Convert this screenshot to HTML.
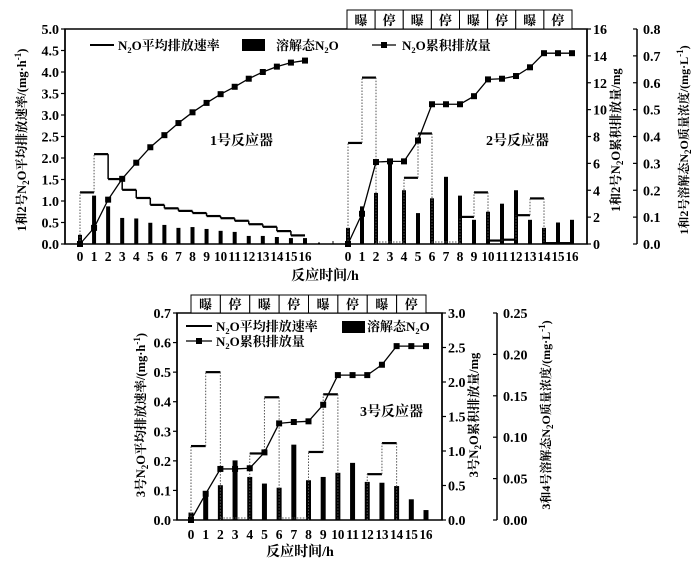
<!DOCTYPE html>
<html><head><meta charset="utf-8">
<style>
html,body{margin:0;padding:0;background:#fff;}
svg{display:block;font-family:"Liberation Serif","Noto Serif CJK SC",serif;}
</style></head>
<body>
<svg id="c" width="700" height="563" viewBox="0 0 700 563" xmlns="http://www.w3.org/2000/svg"></svg>
<script>
const hours = [0,1,2,3,4,5,6,7,8,9,10,11,12,13,14,15,16];
const aerationLabels = ["曝","停","曝","停","曝","停","曝","停"];
// Reactor 1
const r1Rate = [1.2,2.09,1.51,1.26,1.07,0.91,0.83,0.77,0.72,0.65,0.6,0.54,0.46,0.4,0.3,0.2];
const r1Cum = [0,1.2,3.3,4.85,6.05,7.2,8.1,9.0,9.8,10.5,11.15,11.7,12.3,12.8,13.2,13.5,13.65];
const r1Diss = [0.034,0.18,0.14,0.097,0.095,0.079,0.071,0.06,0.063,0.056,0.049,0.045,0.03,0.03,0.026,0.022,0.022];
// Reactor 2
const r2Rate = [2.35,3.87,0,0,1.54,2.57,0,0,0.63,1.2,0.08,0.1,0.67,1.06,0.02,0.02];
const r2Cum = [0,2.25,6.1,6.15,6.15,7.7,10.4,10.4,10.4,11.0,12.25,12.3,12.5,13.15,14.2,14.2,14.2];
const r2Diss = [0.06,0.14,0.19,0.31,0.2,0.115,0.17,0.25,0.18,0.09,0.12,0.15,0.2,0.09,0.06,0.08,0.09];
// Reactor 3
const r3Rate = [0.25,0.5,0,0,0.225,0.415,0,0,0.23,0.425,null,null,0.155,0.26,null,null];
const r3Cum = [0,0.38,0.74,0.74,0.75,0.98,1.4,1.42,1.43,1.67,2.1,2.1,2.1,2.25,2.52,2.52,2.52];
const r3Diss = [0.009,0.033,0.042,0.072,0.052,0.044,0.039,0.091,0.048,0.052,0.057,0.069,0.046,0.045,0.041,0.025,0.012];
// Axis ticks
const topLeftTicks = ["0.0","0.5","1.0","1.5","2.0","2.5","3.0","3.5","4.0","4.5","5.0"];
const topRightTicks = ["0","2","4","6","8","10","12","14","16"];
const topFarTicks = ["0.0","0.1","0.2","0.3","0.4","0.5","0.6","0.7","0.8"];
const botLeftTicks = ["0.0","0.1","0.2","0.3","0.4","0.5","0.6","0.7"];
const botRightTicks = ["0.0","0.5","1.0","1.5","2.0","2.5","3.0"];
const botFarTicks = ["0.00","0.05","0.10","0.15","0.20","0.25"];

const svg = document.getElementById('c');
const NS = "http://www.w3.org/2000/svg";
function el(tag, attrs, parent, text){
  const e = document.createElementNS(NS, tag);
  for (const k in attrs) e.setAttribute(k, attrs[k]);
  if (text !== undefined) e.textContent = text;
  (parent || svg).appendChild(e);
  return e;
}
function lin(d0,d1,r0,r1){ return v => r0 + (v-d0)/(d1-d0)*(r1-r0); }

function yAxis(x, yScale, ticks, side, name){
  const g = el('g', {});
  
  
  const vals = ticks.map(Number);
  el('line',{x1:x,y1:yScale(vals[0]),x2:x,y2:yScale(vals[vals.length-1]),stroke:'#000','stroke-width':1.5},g);
  ticks.forEach((t,i)=>{
    const y = yScale(vals[i]);
    const dx = side==='left' ? -4 : (side==='far' ? -4 : 4);
    el('line',{x1:x,y1:y,x2:x+dx,y2:y,stroke:'#000','stroke-width':1.2},g);
    const tx = side==='left' ? x-6 : x+6;
    const lab = el('text',{x:tx,y:y+5,'font-size':14,'font-weight':'bold','text-anchor':side==='left'?'end':'start'},g,t);
    
    
  });
}
function vTitle(x, y, parts, name, size){
  const t = el('text',{x:x,y:y,'font-size':size||13,'font-weight':'bold','text-anchor':'middle',transform:`rotate(-90 ${x} ${y})`});
  
  
  parts.forEach(p=>{
    el('tspan', p.sub ? {'font-size':9,dy:3} : p.sup ? {'font-size':9,dy:-5} : (p.back? {dy:p.back}:{}), t, p.t);
  });
}
function xLabels(xs, y, name, step){
  const g = el('g',{});
  
  
  hours.forEach(h=>{
    const a = {x:xs(h),y:y,'font-size':13.5,'font-weight':'bold','text-anchor':'middle'};
    if (h>=10) { a.textLength = Math.min(13, step-1); a.lengthAdjust = 'spacingAndGlyphs'; }
    el('text',a,g,String(h));
  });
}
function aerationBar(x0, x1, yTop, yBot, name){
  const g = el('g',{});
  
  
  const w = (x1-x0)/aerationLabels.length;
  aerationLabels.forEach((l,i)=>{
    el('rect',{x:x0+i*w,y:yTop,width:w,height:yBot-yTop,fill:'#fff',stroke:'#000','stroke-width':1},g);
    el('text',{x:x0+i*w+w/2,y:yBot-4,'font-size':13,'text-anchor':'middle','font-weight':'bold'},g,l);
  });
}
function bars(xs, ys, data, w, name){
  const g = el('g',{});
  
  
  data.forEach((v,i)=>{
    const b = el('rect',{x:xs(hours[i])-w/2,y:ys(v),width:w,height:ys(0)-ys(v),fill:'#000'},g);
    
    
  });
}
function cumLine(xs, ys, data, name){
  const g = el('g',{});
  
  
  el('polyline',{points:data.map((v,i)=>xs(hours[i])+','+ys(v)).join(' '),fill:'none',stroke:'#000','stroke-width':1.3},g);
  data.forEach((v,i)=>{
    const m = el('rect',{x:xs(hours[i])-3,y:ys(v)-3,width:6,height:6,fill:'#000'},g);
    
    
  });
}
function steps(xs, ys, data, solidConnFrom, name){
  const g = el('g',{});
  
  
  const dot = {stroke:'#555','stroke-width':1,'stroke-dasharray':'1.5,1.5',fill:'none'};
  data.forEach((v,i)=>{
    if (v===null) return;
    const xa = xs(hours[i]), xb = xs(hours[i+1]);
    if (v===0) el('line',Object.assign({x1:xa,y1:ys(0)-2,x2:xb,y2:ys(0)-2},dot),g);
    else el('line',{x1:xa,y1:ys(v),x2:xb,y2:ys(v),stroke:'#000','stroke-width':2.2},g);
  });
  for (let i=0;i<data.length;i++){
    const prev = i>0 ? data[i-1] : null;
    const cur = data[i];
    if (prev===null && cur===null) continue;
    const a = prev===null ? 0 : prev, b = cur===null ? 0 : cur;
    if (Math.abs(a-b) < 1e-9) continue;
    const x = xs(hours[i]);
    const st = (solidConnFrom!==null && i>=solidConnFrom) ? {stroke:'#000','stroke-width':1.5} : dot;
    el('line',Object.assign({x1:x,y1:ys(a),x2:x,y2:ys(b)},st),g);
  }
}
function n2oText(x,y,pre,post,size,parent,anchor){
  const t = el('text',{x:x,y:y,'font-size':size,'font-weight':'bold','text-anchor':anchor||'start'},parent);
  el('tspan',{},t,pre+'N');
  el('tspan',{'font-size':size*0.65,dy:3},t,'2');
  el('tspan',{dy:-3},t,'O'+post);
  return t;
}

/* ===== TOP CHART ===== */
const tL=65, tR=587, tT=29, tB=244;
const x1s = lin(0,16,80,305);
const x2s = lin(0,16,348,572);
const yRateT = lin(0,5,tB,tT);
const yCumT = lin(0,16,tB,tT);
const yDisT = lin(0,0.8,tB,tT);
const frameT = el('rect',{x:tL,y:tT,width:tR-tL,height:tB-tT,fill:'none',stroke:'#000','stroke-width':1.5});


aerationBar(347,572,10,tT,'top-aeration-schedule');
yAxis(tL, yRateT, topLeftTicks, 'left', 'top-left-y-axis');
yAxis(tR, yCumT, topRightTicks, 'right', 'top-right-y-axis');
yAxis(637, yDisT, topFarTicks, 'far', 'top-far-right-y-axis');
xLabels(x1s, 261, 'reactor1-x-labels', 14);
xLabels(x2s, 261, 'reactor2-x-labels', 14);
bars(x1s, yDisT, r1Diss, 4, 'reactor1-dissolved-bars');
bars(x2s, yDisT, r2Diss, 4, 'reactor2-dissolved-bars');
el('line',{x1:318,y1:tB-1,x2:320,y2:tB-1,stroke:'#000'});
el('line',{x1:333,y1:tB-3,x2:333,y2:tB,stroke:'#000'});
steps(x1s, yRateT, r1Rate, 2, 'reactor1-rate-steps');
steps(x2s, yRateT, r2Rate, null, 'reactor2-rate-steps');
cumLine(x1s, yCumT, r1Cum, 'reactor1-cumulative-line');
cumLine(x2s, yCumT, r2Cum, 'reactor2-cumulative-line');
const lgT = el('g',{});  
el('line',{x1:90,y1:45,x2:114,y2:45,stroke:'#000','stroke-width':2},lgT);
n2oText(118,50,'','平均排放速率',13,lgT);
el('rect',{x:242,y:39,width:23,height:12,fill:'#000'},lgT);
n2oText(276,50,'溶解态','',13,lgT);
el('line',{x1:372,y1:45,x2:396,y2:45,stroke:'#000','stroke-width':1.3},lgT);
el('rect',{x:381,y:42,width:6,height:6,fill:'#000'},lgT);
n2oText(402,50,'','累积排放量',13,lgT);
const lb1 = el('text',{x:210,y:145,'font-size':14,'font-weight':'bold'},svg,'1号反应器');
 
const lb2 = el('text',{x:486,y:145,'font-size':14,'font-weight':'bold'},svg,'2号反应器');
 
const xt1 = el('text',{x:325,y:280,'font-size':14,'font-weight':'bold','text-anchor':'middle'},svg,'反应时间/h');
 
vTitle(26,140,[{t:'1和2号N'},{t:'2',sub:1},{t:'O平均排放速率/(mg·h',back:-3},{t:'-1',sup:1},{t:')',back:5}],'top-left-y-axis-title',12.5);
vTitle(620,140,[{t:'1和2号N'},{t:'2',sub:1},{t:'O累积排放量/mg',back:-3}],'top-right-y-axis-title',12.5);
vTitle(688,140,[{t:'1和2号溶解态N'},{t:'2',sub:1},{t:'O质量浓度/(mg·L',back:-3},{t:'-1',sup:1},{t:')',back:5}],'top-far-right-y-axis-title',12);

/* ===== BOTTOM CHART ===== */
const bL=177, bR=442, bT=313, bB=520;
const x3s = lin(0,16,191,426);
const yRateB = lin(0,0.7,bB,bT);
const yCumB = lin(0,3,bB,bT);
const yDisB = lin(0,0.25,bB,bT);
const frameB = el('rect',{x:bL,y:bT,width:bR-bL,height:bB-bT,fill:'none',stroke:'#000','stroke-width':1.5});


aerationBar(191,426,295,bT,'bottom-aeration-schedule');
yAxis(bL, yRateB, botLeftTicks, 'left', 'bottom-left-y-axis');
yAxis(bR, yCumB, botRightTicks, 'right', 'bottom-right-y-axis');
yAxis(497, yDisB, botFarTicks, 'far', 'bottom-far-right-y-axis');
xLabels(x3s, 539, 'reactor3-x-labels', 14.7);
bars(x3s, yDisB, r3Diss, 5, 'reactor3-dissolved-bars');
steps(x3s, yRateB, r3Rate, null, 'reactor3-rate-steps');
cumLine(x3s, yCumB, r3Cum, 'reactor3-cumulative-line');
const lgB = el('g',{});  
el('line',{x1:186,y1:326,x2:212,y2:326,stroke:'#000','stroke-width':2},lgB);
n2oText(216,331,'','平均排放速率',13,lgB);
el('line',{x1:186,y1:341,x2:212,y2:341,stroke:'#000','stroke-width':1.3},lgB);
el('rect',{x:196,y:338,width:6,height:6,fill:'#000'},lgB);
n2oText(216,346,'','累积排放量',13,lgB);
el('rect',{x:342,y:321,width:23,height:12,fill:'#000'},lgB);
n2oText(367,331,'溶解态','',13,lgB);
const lb3 = el('text',{x:360,y:416,'font-size':14,'font-weight':'bold'},svg,'3号反应器');
 
const xt2 = el('text',{x:300,y:556,'font-size':14,'font-weight':'bold','text-anchor':'middle'},svg,'反应时间/h');
 
vTitle(145,415,[{t:'3号N'},{t:'2',sub:1},{t:'O平均排放速率/(mg·h',back:-3},{t:'-1',sup:1},{t:')',back:5}],'bottom-left-y-axis-title',12.5);
vTitle(478,415,[{t:'3号N'},{t:'2',sub:1},{t:'O累积排放量/mg',back:-3}],'bottom-right-y-axis-title',12.5);
vTitle(550,415,[{t:'3和4号溶解态N'},{t:'2',sub:1},{t:'O质量浓度/(mg·L',back:-3},{t:'-1',sup:1},{t:')',back:5}],'bottom-far-right-y-axis-title',12);
</script>
</body></html>
